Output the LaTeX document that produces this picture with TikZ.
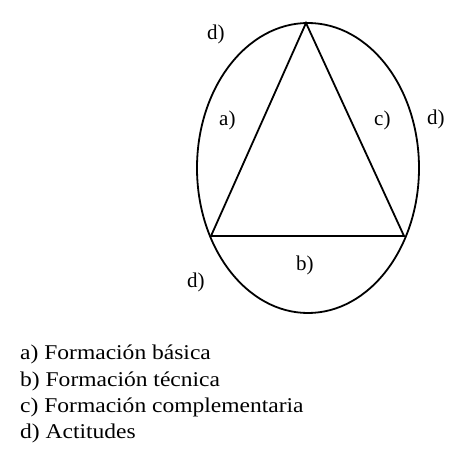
\documentclass[tikz,border=0pt]{standalone}
\usepackage{graphicx}
\usepackage{fontspec}
\setmainfont{Liberation Serif}
\newcommand{\legstretch}[1]{\scalebox{1.12}[1]{#1}}
\begin{document}
\begin{tikzpicture}[x=1pt,y=-1pt,
  lbl/.style={anchor=base west,inner sep=0pt,font=\fontsize{21}{21}\selectfont},
  leg/.style={anchor=base west,inner sep=0pt,font=\fontsize{21}{21}\selectfont},
  shape line/.style={line width=1.8pt}]
\useasboundingbox (0,0) rectangle (449,466);
\coordinate (C) at (308,168);
\coordinate (T) at (306,23);
\coordinate (L) at (211,236);
\coordinate (R) at (404,236);
\draw[shape line] (C) ellipse [x radius=111, y radius=145];
\draw[shape line,line join=miter] (T) -- (L) -- (R) -- cycle;
\node[lbl] (d1) at (207,39) {d)};
\node[lbl] (a) at (219,125) {a)};
\node[lbl] (c) at (374,125) {c)};
\node[lbl] (d2) at (427,124) {d)};
\node[lbl] (b) at (296,270) {b)};
\node[lbl] (d3) at (187,287) {d)};
\node[leg] (la) at (20,359) {\legstretch{a) Formación básica}};
\node[leg] (lb) at (20,386) {\legstretch{b) Formación técnica}};
\node[leg] (lc) at (20,412) {\legstretch{c) Formación complementaria}};
\node[leg] (ld) at (20,438) {\legstretch{d) Actitudes}};
\end{tikzpicture}
\end{document}
